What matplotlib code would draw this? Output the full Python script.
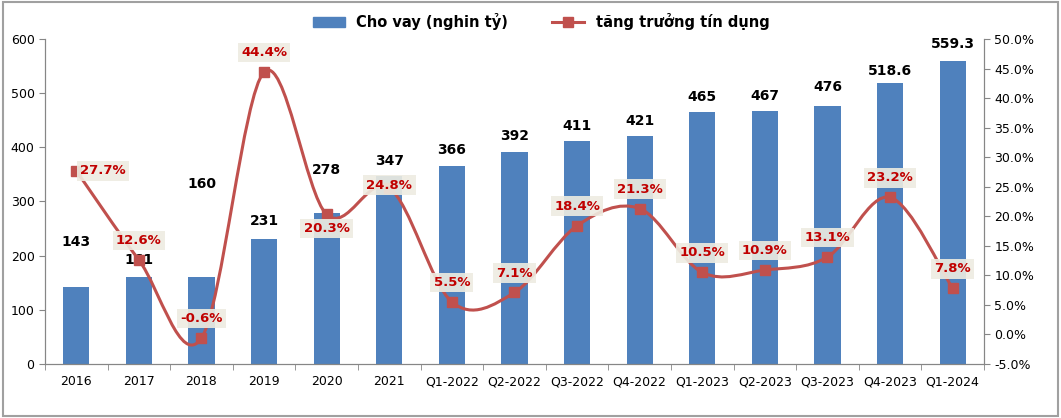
import matplotlib.pyplot as plt
import numpy as np
from matplotlib.path import Path
from matplotlib.patches import PathPatch
from matplotlib.lines import Line2D
from matplotlib.ticker import FuncFormatter

# data
categories = ['2016', '2017', '2018', '2019', '2020', '2021', 'Q1-2022', 'Q2-2022',
              'Q3-2022', 'Q4-2022', 'Q1-2023', 'Q2-2023', 'Q3-2023', 'Q4-2023', 'Q1-2024']
loans = [143, 161, 160, 231, 278, 347, 366, 392, 411, 421, 465, 467, 476, 518.6, 559.3]
growth = [27.7, 12.6, -0.6, 44.4, 20.3, 24.8, 5.5, 7.1, 18.4, 21.3, 10.5, 10.9, 13.1, 23.2, 7.8]
loan_labels = ['143', '161', '160', '231', '278', '347', '366', '392', '411', '421',
               '465', '467', '476', '518.6', '559.3']

# label offsets (points)
bar_dy = [32, 12, 67, 13, 31, 11, 11, 11, 11, 11, 11, 11, 14, 8.5, 12]
pct_off = {0: (19, 0), 4: (0, -10), 5: (0, 2)}

bar_color = '#4F81BD'
line_color = '#C0504D'
lab_red = '#C00000'

plt.rcParams['font.family'] = ['DejaVu Sans']

fig = plt.figure(figsize=(10.61, 4.18), dpi=100)
ax = fig.add_axes([0.0424, 0.1292, 0.885, 0.7775])
ax2 = ax.twinx()

x = np.arange(len(categories))
ax.bar(x, loans, width=0.42, color=bar_color, zorder=2, label='Cho vay (nghin tỷ)')
ax.set_xlim(-0.5, len(categories) - 0.5)
ax.set_ylim(0, 600)
ax.set_yticks(range(0, 601, 100))
ax.set_xticks(x)
ax.set_xticklabels(categories, fontsize=9)
ax.set_xticks(np.arange(-0.5, len(categories), 1), minor=True)
ax.tick_params(axis='x', which='major', length=0, pad=8)
ax.tick_params(axis='x', which='minor', length=4, color='#868686')
ax.tick_params(axis='y', labelsize=9, length=4, color='#868686')

for i, v in enumerate(loans):
    ax.annotate(loan_labels[i], (x[i], v), xytext=(0, bar_dy[i]), textcoords='offset points',
                ha='center', va='center', fontsize=10, fontweight='bold', color='black', zorder=5)

# smooth line (Excel-like), Catmull-Rom to Bezier through the data points
ax2.set_ylim(-5, 50)
ax2.set_yticks(np.arange(-5, 50.1, 5))
ax2.yaxis.set_major_formatter(FuncFormatter(lambda v, p: f'{v:.1f}%'))
ax2.tick_params(axis='y', labelsize=9, length=4, color='#868686')

pts = np.column_stack([x, growth]).astype(float)
verts = [tuple(pts[0])]
codes = [Path.MOVETO]
n = len(pts)
for i in range(n - 1):
    p0 = pts[i - 1] if i > 0 else pts[i]
    p1 = pts[i]
    p2 = pts[i + 1]
    p3 = pts[i + 2] if i + 2 < n else pts[i + 1]
    c1 = p1 + (p2 - p0) / 6.0
    c2 = p2 - (p3 - p1) / 6.0
    verts += [tuple(c1), tuple(c2), tuple(p2)]
    codes += [Path.CURVE4] * 3
ax2.add_patch(PathPatch(Path(verts, codes), facecolor='none', edgecolor=line_color, lw=2.2, zorder=3))
ax2.plot(x, growth, ls='none', marker='s', ms=7, color=line_color, zorder=4)

for i, v in enumerate(growth):
    dx, dy = pct_off.get(i, (0, 14))
    ax2.annotate(f'{v:.1f}%', (x[i], v), xytext=(dx, dy), textcoords='offset points',
                 ha='center', va='center', fontsize=9.5, fontweight='bold', color=lab_red,
                 bbox=dict(boxstyle='square,pad=0.25', fc='#EEECE1', ec='none', alpha=0.9), zorder=6)

for a in (ax, ax2):
    a.spines['top'].set_visible(False)
    a.spines['bottom'].set_color('#868686')
    a.spines['left'].set_color('#868686')
    a.spines['right'].set_color('#868686')

handles = [plt.Rectangle((0, 0), 1, 1, color=bar_color),
           Line2D([], [], color=line_color, lw=2.2, marker='s', ms=7)]
fig.legend(handles, ['Cho vay (nghin tỷ)', 'tăng trưởng tín dụng'], loc='upper center',
           bbox_to_anchor=(0.51, 1.0), ncol=2, frameon=False, columnspacing=3,
           prop={'weight': 'bold', 'size': 10.5}, handlelength=2.2)

fig.patches.append(plt.Rectangle((0.003, 0.005), 0.994, 0.99, transform=fig.transFigure,
                                 fill=False, ec='#A0A0A0', lw=1.5))

fig.savefig('out.png', dpi=100)
